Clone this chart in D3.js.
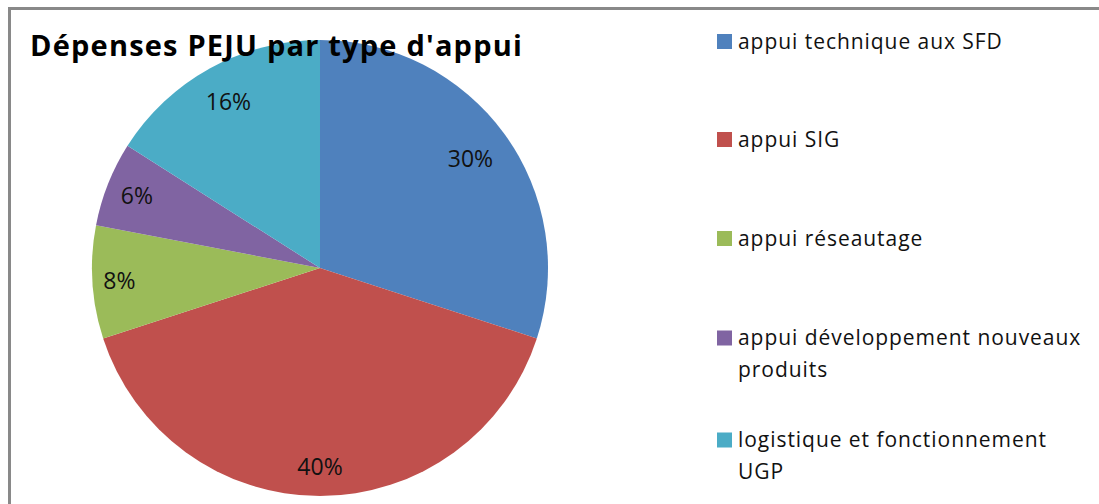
<!DOCTYPE html>
<html><head><meta charset="utf-8">
<script src="https://cdn.jsdelivr.net/npm/d3@7"></script>
<style>body{margin:0;background:#fff}svg{display:block}</style>
</head><body>
<svg id="c" width="1099" height="504"></svg>
<script>
const categories = ["appui technique aux SFD","appui SIG","appui réseautage","appui développement nouveaux produits","logistique et fonctionnement UGP"];
const values = [30,40,8,6,16];
const legendLines = [["appui technique aux SFD"],["appui SIG"],["appui réseautage"],["appui développement nouveaux","produits"],["logistique et fonctionnement","UGP"]];
const colors = ["#4F81BD","#C0504D","#9BBB59","#8064A2","#4BACC6"];
const title = "Dépenses PEJU par type d'appui";

// layout
const labelRadius = [186,199,201,197,190];
const legendY = [41.5,139.5,238.5,338,440];

const svg = d3.select("#c");
const font = "'Open Sans', sans-serif";
svg.append("rect").attr("x",9.5).attr("y",8.5).attr("width",1200).attr("height",600)
  .attr("fill","#fff").attr("stroke","#898989").attr("stroke-width",3);

const cx=320, cy=268, R=228;
const pie = d3.pie().sort(null).value(d=>d);
const arcs = pie(values);
const arc = d3.arc().innerRadius(0).outerRadius(R);
const g = svg.append("g").attr("transform",`translate(${cx},${cy})`);
g.selectAll("path").data(arcs).join("path").attr("d",arc).attr("fill",(d,i)=>colors[i]);
g.selectAll("text").data(arcs).join("text")
  .attr("transform",(d,i)=>`translate(${d3.arc().innerRadius(labelRadius[i]).outerRadius(labelRadius[i]).centroid(d)})`)
  .attr("text-anchor","middle").attr("dy","0.36em")
  .attr("font-family",font).attr("font-size",23).attr("fill","#111")
  .text(d=>d.value+"%");

svg.append("text").attr("x",30).attr("y",56).attr("font-family",font).attr("font-weight","bold")
  .attr("font-size",29).attr("letter-spacing",1.2).attr("fill","#000").text(title);

const lg = svg.append("g");
categories.forEach((c,i)=>{
  lg.append("rect").attr("x",717).attr("y",legendY[i]-7.5).attr("width",15).attr("height",15).attr("fill",colors[i]);
  const t = lg.append("text").attr("font-family",font).attr("font-size",21).attr("letter-spacing",0.95).attr("fill","#111");
  legendLines[i].forEach((line,j)=>{
    t.append("tspan").attr("x",738).attr("y",legendY[i]+7+j*32).text(line);
  });
});
</script>
</body></html>
